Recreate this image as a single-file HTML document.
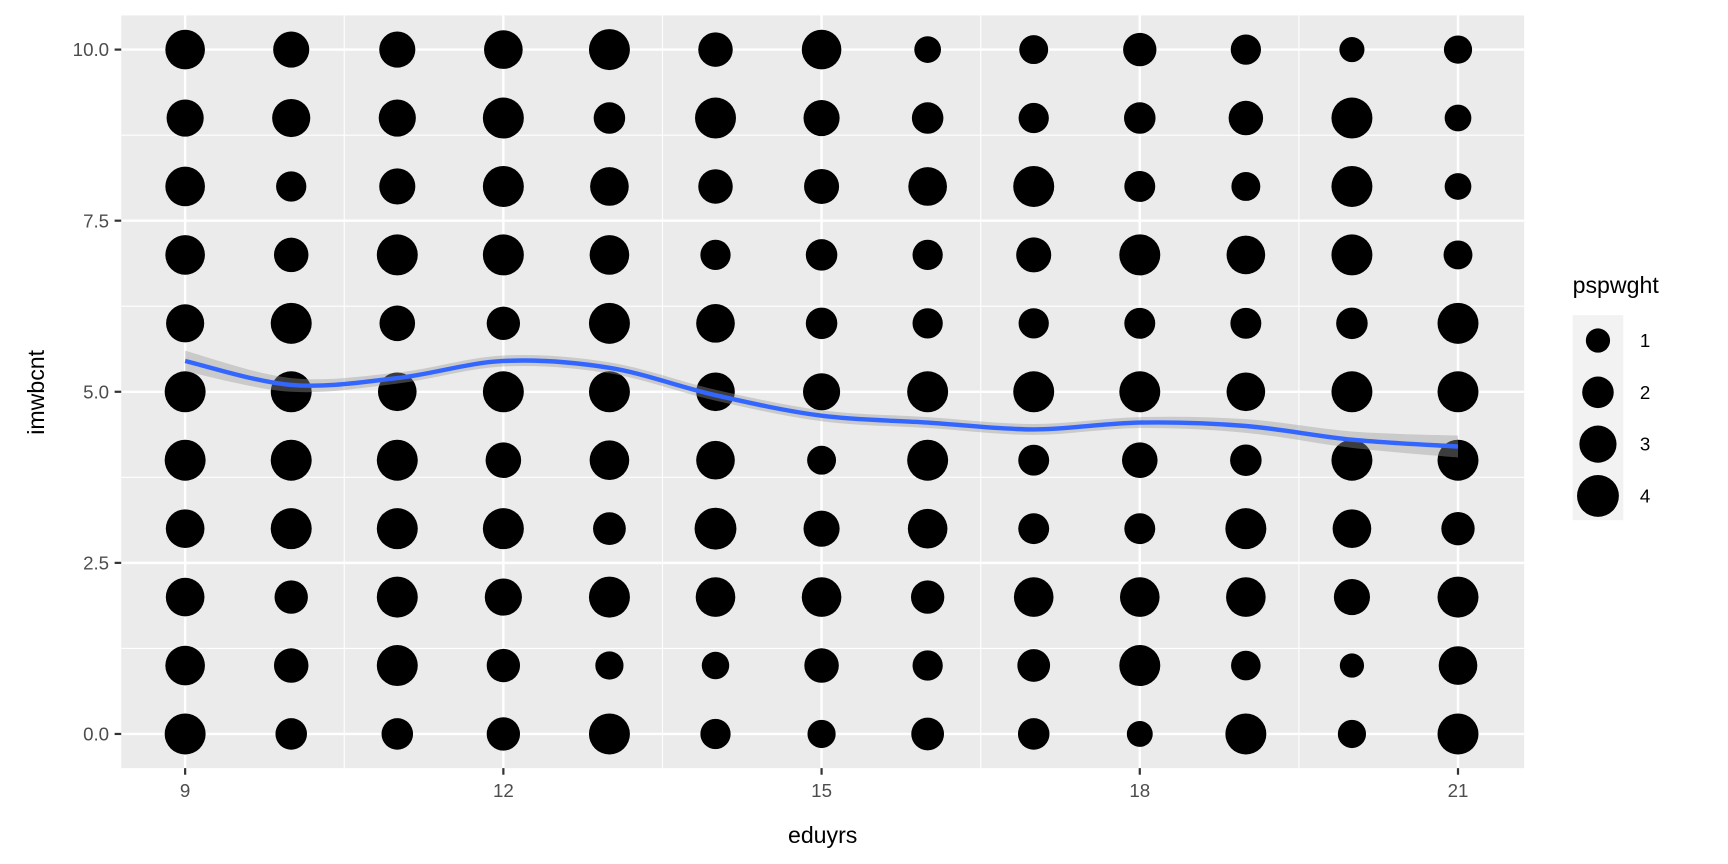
<!DOCTYPE html>
<html><head><meta charset="utf-8"><style>
body{margin:0;background:#fff;overflow:hidden;}
svg{display:block;}
svg text{font-family:"Liberation Sans",Arial,sans-serif;}
</style></head><body>
<svg id="chart" width="1728" height="864" viewBox="0 0 1568 784" preserveAspectRatio="none" xmlns="http://www.w3.org/2000/svg">
<rect x="0" y="0" width="1568" height="784" fill="#fff"/>
<g id="panel"></g>
<g id="axes"></g>
<g id="legend"></g>
</svg>
<script>
const xCats=[9,10,11,12,13,14,15,16,17,18,19,20,21];
const yCats=[10,9,8,7,6,5,4,3,2,1,0];
// weights per column (x), rows y=10..0
const w9 =[3.5,3,3.5,3.5,3.2,3.8,3.8,3.3,3.3,3.5,3.8];
const w10=[2.8,3.2,1.8,2.5,3.8,3.8,3.8,3.8,2.3,2.5,2];
const w11=[2.8,3,2.8,3.8,2.7,3.3,3.8,3.8,3.8,3.8,2];
const w12=[3.3,3.8,3.8,3.8,2.3,3.8,2.7,3.8,3,2.3,2.3];
const w13=[3.8,2,3.3,3.5,3.8,3.8,3.5,2.2,3.8,1.5,3.8];
const w14=[2.5,3.8,2.5,1.8,3.3,3.3,3.3,4,3.5,1.4,1.8];
const w15=[3.5,2.8,2.6,2,2,3,1.6,2.8,3.5,2.5,1.5];
const w16=[1.3,2,3.3,1.8,1.8,3.8,3.8,3.5,2.3,1.8,2.2];
const w17=[1.6,1.8,3.8,2.6,1.8,3.8,1.9,1.9,3.5,2.2,2];
const w18=[2.3,2,1.9,3.8,1.9,3.8,2.7,1.9,3.5,3.8,1.2];
const w19=[1.8,2.5,1.6,3.3,1.9,3.3,2,3.8,3.5,1.7,3.8];
const w20=[1.1,3.8,3.8,3.8,2,3.8,3.8,3.3,2.8,1,1.5];
const w21=[1.5,1.3,1.3,1.6,3.8,3.8,3.8,2.3,3.8,3.3,3.8];
const weights=[w9,w10,w11,w12,w13,w14,w15,w16,w17,w18,w19,w20,w21];
const smoothX=[9,10,11,12,13,14,15,16,17,18,19,20,21];
const smoothY=[5.45,5.1,5.2,5.45,5.35,4.95,4.65,4.55,4.45,4.55,4.5,4.3,4.2];
const smoothSE=[0.15,0.1,0.08,0.08,0.08,0.08,0.08,0.08,0.08,0.08,0.1,0.12,0.16];
const xTicks=[9,12,15,18,21];
const yTicks=[0,2.5,5,7.5,10];
const legendVals=[1,2,3,4];

const NS="http://www.w3.org/2000/svg";
const L=110,R=1383,T=14,B=697;
const sx=v=>168+(v-9)*(1323-168)/12;
const sy=v=>666-(v)*(666-45)/10;
const sr=w=>11+8*(Math.sqrt(w)-1);
function mk(tag,attrs,parent){const e=document.createElementNS(NS,tag);for(const k in attrs)e.setAttribute(k,attrs[k]);parent.appendChild(e);return e;}
const panel=document.getElementById('panel'),axes=document.getElementById('axes'),leg=document.getElementById('legend');
let bg=mk('rect',{x:L,y:T,width:R-L,height:B-T,fill:'#EBEBEB'},panel);


for(let i=0;i<4;i++){const v=10.5+3*i;let g=mk('line',{x1:sx(v),x2:sx(v),y1:T,y2:B,stroke:'#fff','stroke-width':1},panel);

}
for(let i=0;i<4;i++){const v=1.25+2.5*i;let g=mk('line',{x1:L,x2:R,y1:sy(v),y2:sy(v),stroke:'#fff','stroke-width':1},panel);

}
xTicks.forEach(v=>{let g=mk('line',{x1:sx(v),x2:sx(v),y1:T,y2:B,stroke:'#fff','stroke-width':2.2},panel);


let t=mk('line',{x1:sx(v),x2:sx(v),y1:B,y2:B+6,stroke:'#333','stroke-width':2},axes);


let l=mk('text',{x:sx(v),y:B+26,'text-anchor':'middle','font-size':17,fill:'#4D4D4D'},axes);l.textContent=v;

});
yTicks.forEach(v=>{let g=mk('line',{x1:L,x2:R,y1:sy(v),y2:sy(v),stroke:'#fff','stroke-width':2.2},panel);


let t=mk('line',{x1:L-6,x2:L,y1:sy(v),y2:sy(v),stroke:'#333','stroke-width':2},axes);


let l=mk('text',{x:L-11,y:sy(v)+6,'text-anchor':'end','font-size':17,fill:'#4D4D4D'},axes);l.textContent=v.toFixed(1);

});
xCats.forEach((x,i)=>yCats.forEach((y,j)=>{let c=mk('circle',{cx:sx(x),cy:sy(y),r:sr(weights[i][j]),fill:'#000'},panel);

}));
function curve(pts){let d='M'+pts[0][0]+','+pts[0][1];for(let i=0;i<pts.length-1;i++){const p0=pts[Math.max(0,i-1)],p1=pts[i],p2=pts[i+1],p3=pts[Math.min(pts.length-1,i+2)];
d+=' C'+(p1[0]+(p2[0]-p0[0])/6)+','+(p1[1]+(p2[1]-p0[1])/6)+' '+(p2[0]-(p3[0]-p1[0])/6)+','+(p2[1]-(p3[1]-p1[1])/6)+' '+p2[0]+','+p2[1];}return d;}
const up=smoothX.map((x,i)=>[sx(x),sy(smoothY[i]+smoothSE[i])]);
const lo=smoothX.map((x,i)=>[sx(x),sy(smoothY[i]-smoothSE[i])]).reverse();
let rib=mk('path',{d:curve(up)+' L'+lo[0][0]+','+lo[0][1]+curve(lo).replace(/^M[^ ]+/,'')+' Z',fill:'#999','fill-opacity':0.4},panel);


let ln=mk('path',{d:curve(smoothX.map((x,i)=>[sx(x),sy(smoothY[i])])),fill:'none',stroke:'#3366FF','stroke-width':4},panel);


let xt=mk('text',{x:(L+R)/2,y:765,'text-anchor':'middle','font-size':21,fill:'#000'},axes);xt.textContent='eduyrs';


let yt=mk('text',{x:0,y:0,'text-anchor':'middle','font-size':21,fill:'#000',transform:'translate(40,356) rotate(-90)'},axes);yt.textContent='imwbcnt';


let lt=mk('text',{x:1427,y:266,'font-size':21,fill:'#000'},leg);lt.textContent='pspwght';


let lb=mk('rect',{x:1427,y:286,width:46,height:186,fill:'#F2F2F2'},leg);


legendVals.forEach((v,i)=>{const cy=309+i*47;let c=mk('circle',{cx:1450,cy:cy,r:sr(v),fill:'#000'},leg);


let t=mk('text',{x:1488,y:cy+6,'font-size':17,fill:'#000'},leg);t.textContent=v;

});
</script>
</body></html>
